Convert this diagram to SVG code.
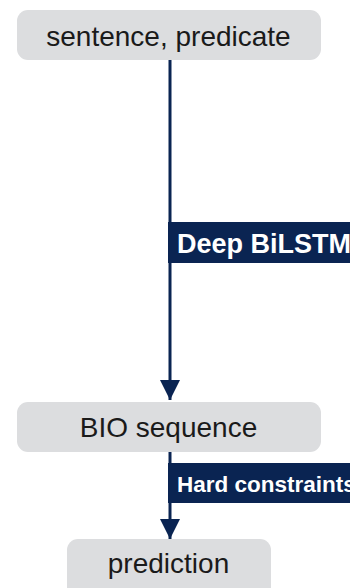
<svg xmlns="http://www.w3.org/2000/svg" width="350" height="588" viewBox="0 0 350 588">
<style>
.node{fill:#dcdddf;}
.nt{font-family:"Liberation Sans",Arial,sans-serif;font-size:28px;fill:#1a1a1a;text-anchor:middle;}
.edge{stroke:#0a2452;stroke-width:3;fill:none;}
.lbl{fill:#0a2452;}
.lt{font-family:"Liberation Sans",Arial,sans-serif;font-weight:bold;fill:#ffffff;}
</style>
<defs>
<marker id="arr" viewBox="0 0 20 20" refX="20" refY="10" markerWidth="20" markerHeight="20" markerUnits="userSpaceOnUse" orient="auto">
<path d="M0,0 L20,10 L0,20 Z" fill="#0a2452"/>
</marker>
</defs>
<rect width="350" height="588" fill="#ffffff"/>
<g id="connectors">
<line class="edge" x1="170" y1="60" x2="170" y2="400" marker-end="url(#arr)"/>
<rect class="lbl" x="168" y="222" width="190" height="41"/>
<text class="lt" x="177" y="253" font-size="27">Deep BiLSTM</text>
<line class="edge" x1="170" y1="452" x2="170" y2="539" marker-end="url(#arr)"/>
<rect class="lbl" x="168" y="463" width="190" height="40"/>
<text class="lt" x="177" y="492" font-size="22.5">Hard constraints</text>
</g>
<g id="n1">
<rect class="node" x="17" y="10" width="304" height="50" rx="11"/>
<text class="nt" x="168.5" y="46">sentence, predicate</text>
</g>
<g id="n2">
<rect class="node" x="17" y="402" width="304" height="50" rx="11"/>
<text class="nt" x="168.5" y="437">BIO sequence</text>
</g>
<g id="n3">
<rect class="node" x="67" y="539" width="204" height="60" rx="11"/>
<text class="nt" x="168.5" y="573">prediction</text>
</g>
</svg>
